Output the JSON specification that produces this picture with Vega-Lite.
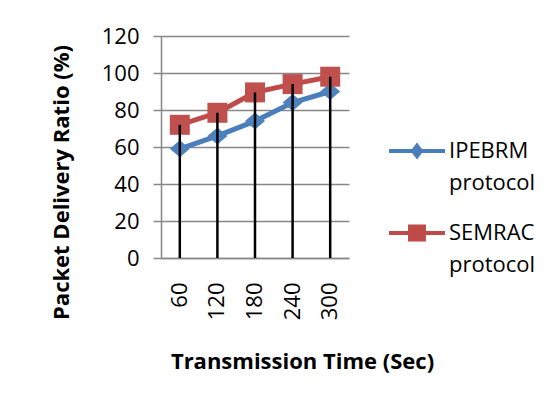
{
  "$schema": "https://vega.github.io/schema/vega-lite/v6.json",
  "autosize": {"type": "none"},
  "padding": {"left": 161, "top": 36, "right": 209, "bottom": 147},
  "width": 188,
  "height": 222,
  "background": "white",
  "config": {
    "view": {"stroke": null},
    "font": "Open Sans",
    "style": {"guide-label": {"lineHeight": 32}},
    "axis": {
      "labelFont": "Open Sans",
      "labelColor": "black",
      "titleFont": "Open Sans",
      "titleColor": "black",
      "titleFontWeight": "bold",
      "titleFontSize": 22,
      "labelFontSize": 22,
      "domainColor": "#878787",
      "domainWidth": 1.5,
      "tickColor": "#878787",
      "tickWidth": 1.5,
      "gridColor": "#878787",
      "gridWidth": 1.5,
      "gridOpacity": 1
    },
    "legend": {
      "orient": "none",
      "legendX": 228,
      "legendY": 87,
      "title": null,
      "symbolSize": 3136,
      "symbolOpacity": 1,
      "symbolStrokeWidth": 0,
      "labelFont": "Open Sans",
      "labelFontSize": 22,
      "labelColor": "black",
      "labelOffset": 4,
      "labelLimit": 200,
      "rowPadding": 11
    }
  },
  "data": {
    "values": [
      {"time": 60, "series": "IPEBRM protocol", "value": 59},
      {"time": 120, "series": "IPEBRM protocol", "value": 66},
      {"time": 180, "series": "IPEBRM protocol", "value": 74},
      {"time": 240, "series": "IPEBRM protocol", "value": 84},
      {"time": 300, "series": "IPEBRM protocol", "value": 90},
      {"time": 60, "series": "SEMRAC protocol", "value": 72},
      {"time": 120, "series": "SEMRAC protocol", "value": 78.5},
      {"time": 180, "series": "SEMRAC protocol", "value": 89.5},
      {"time": 240, "series": "SEMRAC protocol", "value": 94},
      {"time": 300, "series": "SEMRAC protocol", "value": 98}
    ]
  },
  "encoding": {
    "x": {
      "field": "time",
      "type": "ordinal",
      "axis": {
        "labelAngle": 270,
        "ticks": false,
        "labelPadding": 24,
        "title": "Transmission Time (Sec)",
        "titleX": 141,
        "titleY": 103,
        "titleBaseline": "middle"
      }
    },
    "y": {
      "field": "value",
      "type": "quantitative",
      "scale": {"domain": [0, 120], "nice": false},
      "axis": {
        "values": [0, 20, 40, 60, 80, 100, 120],
        "grid": true,
        "tickSize": 8,
        "labelPadding": 14,
        "title": "Packet Delivery Ratio (%)",
        "titleX": -100,
        "titleY": 146,
        "titleBaseline": "middle"
      }
    }
  },
  "layer": [
    {
      "mark": {"type": "line", "strokeWidth": 5},
      "encoding": {
        "color": {
          "field": "series",
          "type": "nominal",
          "scale": {"domain": ["IPEBRM protocol", "SEMRAC protocol"], "range": ["#4A7EBB", "#BE4B48"]}
        }
      }
    },
    {
      "transform": [{"filter": "datum.series == 'IPEBRM protocol'"}],
      "mark": {"type": "point", "filled": true, "opacity": 1, "color": "#4F81BD", "size": 400, "shape": "M-1,0L0,-0.85L1,0L0,0.85Z"}
    },
    {
      "transform": [{"filter": "datum.series == 'SEMRAC protocol'"}],
      "mark": {"type": "point", "filled": true, "opacity": 1, "color": "#C0504D", "size": 400, "shape": "square"}
    },
    {
      "transform": [{"filter": "datum.series == 'SEMRAC protocol'"}],
      "mark": {"type": "rule", "color": "black", "strokeWidth": 2.5},
      "encoding": {"y2": {"datum": 0}}
    },
    {
      "mark": {"type": "point", "filled": true, "opacity": 0},
      "encoding": {
        "color": {
          "field": "series",
          "type": "nominal",
          "legend": {"labelExpr": "split(datum.label, ' ')", "symbolOpacity": 1}
        },
        "shape": {
          "field": "series",
          "type": "nominal",
          "scale": {
            "domain": ["IPEBRM protocol", "SEMRAC protocol"],
            "range": [
              "M-1,-0.07H1V0.07H-1Z M-0.23,0L0,-0.3L0.23,0L0,0.3Z",
              "M-1,-0.07H1V0.07H-1Z M-0.32,-0.3H0.32V0.3H-0.32Z"
            ]
          },
          "legend": {"labelExpr": "split(datum.label, ' ')", "symbolOpacity": 1}
        }
      }
    }
  ]
}
